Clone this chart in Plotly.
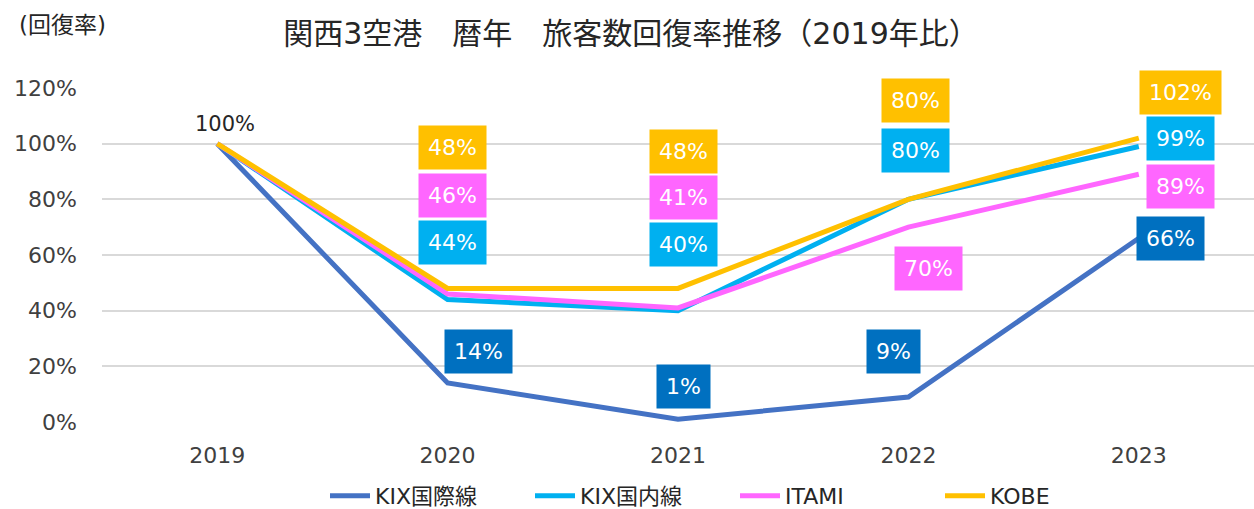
import plotly.graph_objects as go

years = ["2019", "2020", "2021", "2022", "2023"]
series_names = ["KIX国際線", "KIX国内線", "ITAMI", "KOBE"]
kix_intl = [100, 14, 1, 9, 66]
kix_dom = [100, 44, 40, 80, 99]
itami = [100, 46, 41, 70, 89]
kobe = [100, 48, 48, 80, 102]
y_ticks = [0, 20, 40, 60, 80, 100, 120]
y_tick_labels = [f"{t}%" for t in y_ticks]

values = [kix_intl, kix_dom, itami, kobe]
line_colors = ["#4472C4", "#00B0F0", "#FF66FF", "#FFC000"]
box_colors = ["#0070C0", "#00B0F0", "#FF66FF", "#FFC000"]

# label offsets in pixels (xshift, yshift) per series per year; None = no label
offsets = [
    [None, (31, 32), (5, 33), (-15, 45), (32, 0)],
    [None, (5, 57), (5, 66), (7, 49), (42, 8)],
    [None, (5, 98), (5, 110), (20, -41), (42, -12)],
    [None, (5, 141), (5, 137), (7, 99), (42, 46)],
]

LAT = "DejaVu Sans, Noto Sans CJK JP"
xpos = list(range(len(years)))

fig = go.Figure()
for name, vals, col in zip(series_names, values, line_colors):
    fig.add_trace(go.Scatter(x=xpos, y=vals, name=name, mode="lines",
                             line=dict(color=col, width=5)))

ann = []
for vals, offs, bc in zip(values, offsets, box_colors):
    for xp, v, o in zip(xpos, vals, offs):
        if o is None:
            continue
        ann.append(dict(x=xp, y=v, xref="x", yref="y", text=f"{v}%",
                        showarrow=False, xshift=o[0], yshift=o[1],
                        xanchor="center", yanchor="middle",
                        bgcolor=bc, borderpad=9,
                        font=dict(family=LAT, size=22, color="white")))
ann.append(dict(x=xpos[0], y=kobe[0], xref="x", yref="y", text=f"{kobe[0]}%",
                showarrow=False, xshift=8, yshift=20,
                xanchor="center", yanchor="middle",
                font=dict(family=LAT, size=21, color="#262626")))
ann.append(dict(x=-40 / 1152, y=1 + 63 / 334, xref="paper", yref="paper",
                text="(回復率)", showarrow=False,
                xanchor="center", yanchor="middle",
                font=dict(family=LAT, size=23, color="#262626")))

fig.update_layout(
    width=1254, height=509,
    margin=dict(l=102, r=0, t=88, b=87, autoexpand=False),
    paper_bgcolor="white", plot_bgcolor="white",
    title=dict(text="関西3空港　暦年　旅客数回復率推移（2019年比）",
               x=631 / 1254, xanchor="center", xref="container",
               y=1 - 33 / 509, yanchor="middle", yref="container",
               font=dict(family=LAT, size=30, color="#262626")),
    font=dict(family=LAT, size=22, color="#404040"),
    showlegend=True,
    legend=dict(orientation="h", x=735 / 1254, xanchor="center", xref="container",
                y=1 - 496 / 509, yanchor="middle", yref="container",
                font=dict(family=LAT, size=22, color="#262626"),
                itemwidth=40, entrywidth=150, entrywidthmode="pixels"),
    xaxis=dict(range=[-0.5, 4.5], tickmode="array", tickvals=xpos, ticktext=years,
               showgrid=False, zeroline=False,
               showline=False, ticks="", tickfont=dict(size=22, color="#404040"),
               ticklabelstandoff=18, automargin=False),
    yaxis=dict(range=[0, 120], tickmode="array", tickvals=y_ticks, ticktext=y_tick_labels,
               showgrid=True, gridcolor="#D9D9D9", gridwidth=1.5,
               zeroline=False, showline=False, automargin=False,
               ticklabelstandoff=24,
               tickfont=dict(size=22, color="#404040")),
    annotations=ann,
)

fig.write_html("out.html", config={"displayModeBar": False},
               post_script="document.body.style.margin='0';document.body.style.padding='0';")
